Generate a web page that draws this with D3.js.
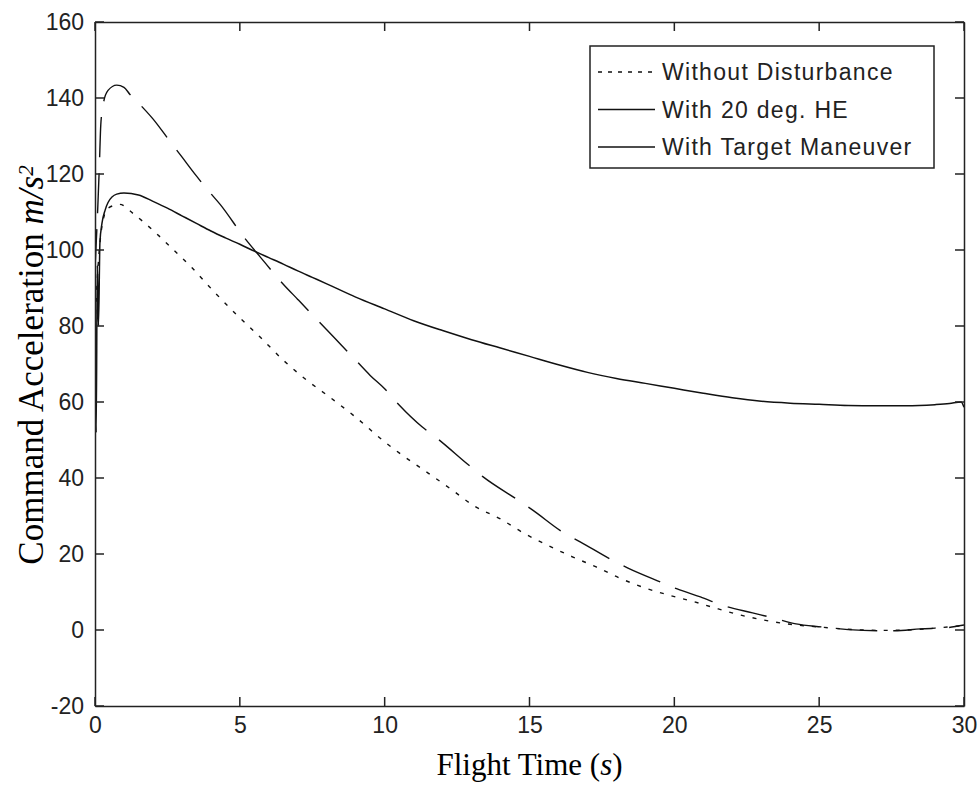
<!DOCTYPE html>
<html>
<head>
<meta charset="utf-8">
<script src="https://cdn.jsdelivr.net/npm/d3@7/dist/d3.min.js"></script>
<style>
  body { margin: 0; background: #fff; }
  .axis text { font-family: "Liberation Sans", Arial, sans-serif; font-size: 23px; fill: #222; }
  .axis path { stroke: #222; stroke-width: 1.5; }
</style>
</head>
<body>
<div id="chart"></div>
<script>
// Series data: flight time (s) vs command acceleration (m/s^2)
const timeNoDist = [0, 0.1, 0.2, 0.3, 0.45, 0.86, 1.3, 1.73, 2.1, 2.5, 3.35, 4.15, 4.94, 5.7, 6.5, 7.3, 8.1, 9, 10, 10.5, 11.5, 12.3, 13.1, 14, 14.8, 15.6, 16.5, 17.3, 18.1, 18.9, 19.8, 20.7, 21.4, 22.3, 23.1, 24, 25, 26, 27, 28, 29, 30];
const accNoDist  = [80, 95, 104, 108.5, 111, 112, 109.7, 107, 104.5, 101.6, 95.3, 88.7, 82.6, 77.1, 71, 65.8, 61.3, 56, 49.5, 46.6, 41.3, 37, 32.6, 29.2, 25.5, 22.4, 19.2, 16.6, 13.7, 11.3, 9.2, 7.4, 5.8, 3.9, 2.6, 1.5, 0.8, 0.2, -0.1, 0, 0.5, 1.2];

const timeHE = [0, 0.1, 0.15, 0.2, 0.3, 0.45, 0.75, 1.0, 1.2, 1.66, 2.0, 2.5, 3, 3.5, 3.87, 4.32, 5.18, 5.7, 6.5, 7, 7.5, 8, 8.5, 9, 9.5, 10, 10.5, 11.3, 11.8, 12.9, 13.4, 14.6, 15.1, 16.2, 16.75, 17.9, 18.4, 19.6, 20.1, 20.9, 21.7, 22.7, 23.4, 24.2, 25.1, 26, 27, 27.6, 28.5, 29.4, 30];
const accHE  = [95, 112, 122, 133, 139, 142, 143.4, 142.8, 141, 137.4, 134.5, 129.5, 124.5, 119.5, 116, 112, 103, 98.2, 91, 87, 83, 79, 75, 71, 67, 63.5, 59.2, 53.4, 50.5, 43.4, 40.3, 34.2, 31.6, 25.5, 23.2, 18.2, 16.3, 12.4, 10.8, 8.7, 6.4, 4.5, 3.2, 1.6, 0.8, 0.1, -0.2, -0.2, 0.3, 0.6, 1.3];

const timeTM = [0, 0.04, 0.08, 0.12, 0.17, 0.24, 0.35, 0.45, 0.75, 1, 1.5, 2, 2.5, 3, 3.5, 4, 4.5, 5, 5.5, 6, 6.5, 7, 7.5, 8, 9, 10, 11, 12, 13, 14, 15, 16, 17, 18, 19, 20, 21, 22, 23, 24, 25, 26, 27, 28, 29, 29.5, 29.9, 30];
const accTM  = [97, 52, 96, 80, 102, 107, 110.5, 112.5, 114.7, 115, 114.5, 112.8, 111, 109, 107, 105, 103.2, 101.5, 99.7, 98, 96.3, 94.5, 92.8, 91.1, 87.6, 84.5, 81.4, 78.8, 76.4, 74.2, 72, 69.8, 67.8, 66.2, 64.9, 63.6, 62.3, 61.1, 60.2, 59.7, 59.4, 59.1, 59, 59, 59.3, 59.6, 60, 58.6];

const seriesNames = ["Without Disturbance", "With 20 deg. HE", "With Target Maneuver"];
const xTicks = [0, 5, 10, 15, 20, 25, 30];
const yTicks = [-20, 0, 20, 40, 60, 80, 100, 120, 140, 160];

// Chart dimensions
const margin = { top: 22, right: 16, bottom: 79, left: 95 };
const width = 980 - margin.left - margin.right;
const height = 785 - margin.top - margin.bottom;

const root = d3.select("#chart").append("svg")
  .attr("width", 980)
  .attr("height", 785)
  .style("background", "#fff");

const svg = root.append("g")
  .attr("transform", `translate(${margin.left},${margin.top})`);

const x = d3.scaleLinear().domain([0, 30]).range([0, width]);
const y = d3.scaleLinear().domain([-20, 160]).range([height, 0]);

svg.append("clipPath").attr("id", "plot-clip")
  .append("rect").attr("x", 1).attr("width", width - 1).attr("height", height);

// line styles per series
const styles = [
  { dash: "4,8", width: 1.4 },
  { dash: "40,16", width: 1.4 },
  { dash: null, width: 1.5 }
];

const series = [
  { name: seriesNames[0], values: timeNoDist.map((t, i) => ({ t, a: accNoDist[i] })) },
  { name: seriesNames[1], values: timeHE.map((t, i) => ({ t, a: accHE[i] })) },
  { name: seriesNames[2], values: timeTM.map((t, i) => ({ t, a: accTM[i] })) }
];

const lineGen = d3.line()
  .x(d => x(d.t))
  .y(d => y(d.a))
  .curve(d3.curveMonotoneX);

svg.append("g")
  .attr("clip-path", "url(#plot-clip)")
  .selectAll("path")
  .data(series)
  .enter()
  .append("path")
    .attr("d", d => lineGen(d.values))
    .attr("fill", "none")
    .attr("stroke", "#111")
    .attr("stroke-width", (d, i) => styles[i].width)
    .attr("stroke-dasharray", (d, i) => styles[i].dash);

// Axes: labels from d3 axis, box drawn by the four domain paths
const plain = d => String(d); // keep ascii hyphen for negatives
svg.append("g").attr("class", "axis")
  .attr("transform", `translate(0,${height})`)
  .call(d3.axisBottom(x).tickValues(xTicks).tickFormat(plain).tickSize(0).tickPadding(11));

svg.append("g").attr("class", "axis")
  .call(d3.axisLeft(y).tickValues(yTicks).tickFormat(plain).tickSize(0).tickPadding(11));

svg.append("g").attr("class", "axis")
  .call(d3.axisTop(x).tickValues(xTicks).tickSize(0).tickFormat(""));

svg.append("g").attr("class", "axis")
  .attr("transform", `translate(${width},0)`)
  .call(d3.axisRight(y).tickValues(yTicks).tickSize(0).tickFormat(""));

// inward tick marks on all four sides
const tick = 9;
const ticks = svg.append("g").attr("class", "ticks")
  .attr("stroke", "#222").attr("stroke-width", 1.5);
ticks.selectAll("line.xb").data(xTicks).enter().append("line")
  .attr("x1", d => x(d)).attr("x2", d => x(d))
  .attr("y1", height).attr("y2", height - tick);
ticks.selectAll("line.xt").data(xTicks).enter().append("line")
  .attr("x1", d => x(d)).attr("x2", d => x(d))
  .attr("y1", 0).attr("y2", tick);
ticks.selectAll("line.yl").data(yTicks).enter().append("line")
  .attr("y1", d => y(d)).attr("y2", d => y(d))
  .attr("x1", 0).attr("x2", tick);
ticks.selectAll("line.yr").data(yTicks).enter().append("line")
  .attr("y1", d => y(d)).attr("y2", d => y(d))
  .attr("x1", width).attr("x2", width - tick);

// Axis titles
const serif = "'Liberation Serif', 'Times New Roman', serif";
svg.append("text")
  .attr("x", width / 2)
  .attr("y", height + 69)
  .attr("text-anchor", "middle")
  .style("font-family", serif)
  .style("font-size", "31px")
  .call(t => {
    t.append("tspan").text("Flight Time (");
    t.append("tspan").style("font-style", "italic").text("s");
    t.append("tspan").text(")");
  });

const yTitle = svg.append("text")
  .attr("transform", `translate(${31 - margin.left},${height / 2 + 1}) rotate(-90)`)
  .attr("text-anchor", "middle")
  .attr("dy", "0.35em")
  .style("font-family", serif)
  .style("font-size", "35px");
yTitle.append("tspan").text("Command Acceleration ");
yTitle.append("tspan").style("font-style", "italic").text("m/s");
yTitle.append("tspan").attr("dy", "-0.5em").style("font-style", "italic").style("font-size", "21px").text("2");

// Legend
const legendBox = { x0: 590, x1: 934, y0: 46, y1: 168 };
const legend = root.append("g").attr("class", "legend");
legend.append("rect")
  .attr("x", legendBox.x0)
  .attr("y", legendBox.y0)
  .attr("width", legendBox.x1 - legendBox.x0)
  .attr("height", legendBox.y1 - legendBox.y0)
  .attr("fill", "#fff")
  .attr("stroke", "#222")
  .attr("stroke-width", 1.5);

const rows = legend.selectAll("g.row")
  .data(seriesNames)
  .enter()
  .append("g")
    .attr("class", "row")
    .attr("transform", (d, i) => `translate(0,${72 + i * 37.5})`);

rows.append("line")
  .attr("x1", 598)
  .attr("x2", 655)
  .attr("stroke", "#111")
  .attr("stroke-width", 1.4)
  .attr("stroke-dasharray", (d, i) => i === 0 ? "4,6" : null);

rows.append("text")
  .attr("x", 662)
  .attr("dy", "0.35em")
  .style("font-family", "'Liberation Sans', Arial, sans-serif")
  .style("font-size", "23px")
  .style("letter-spacing", "1.3px")
  .style("fill", "#222")
  .text(d => d);
</script>
</body>
</html>
